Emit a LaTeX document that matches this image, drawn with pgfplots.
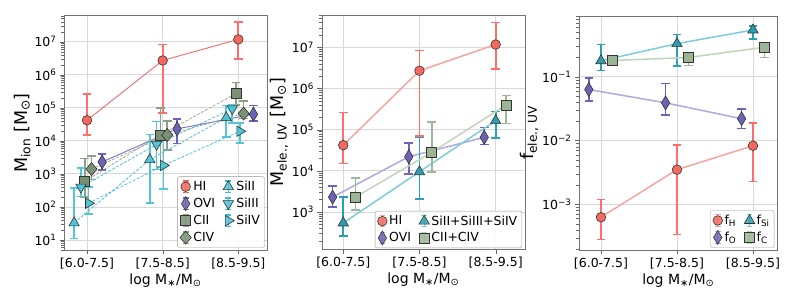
\documentclass[border=0pt]{standalone}
\usepackage{pgfplots}
\usepackage{pgfplotstable}
\pgfplotsset{compat=1.18}
\usepackage{fontspec}
\setmainfont{DejaVu Sans}
\definecolor{hiF}{HTML}{F4685F}
\definecolor{hiE}{HTML}{FF6E6A}
\definecolor{hiL}{HTML}{F06A6A}
\definecolor{hiL2}{HTML}{F7A3A0}
\definecolor{oF}{HTML}{6C63B5}
\definecolor{oE}{HTML}{7060C0}
\definecolor{oL}{HTML}{7B6FC4}
\definecolor{oL2}{HTML}{B0A8DA}
\definecolor{cF}{HTML}{7B9176}
\definecolor{cE}{HTML}{8CA087}
\definecolor{cL}{HTML}{8FA48A}
\definecolor{cF2}{HTML}{9BB595}
\definecolor{cE2}{HTML}{9DB897}
\definecolor{cL2}{HTML}{C0D4BC}
\definecolor{sF}{HTML}{4DC4D8}
\definecolor{sE}{HTML}{55C6D8}
\definecolor{sL}{HTML}{3DBCD6}
\definecolor{sF2}{HTML}{2C9EB0}
\definecolor{sE2}{HTML}{2AA0B4}
\definecolor{sL2}{HTML}{7DCCDA}
\definecolor{edge}{HTML}{333333}

\pgfplotstableread[row sep=\\]{x y lo hi\\ 0 4.2e4 1.5e4 2.6e5\\ 1 2.7e6 7.1e4 8.3e6\\ 2 1.17e7 3.0e6 4.0e7\\}\tHI
\pgfplotstableread[row sep=\\]{x y lo hi\\ 0.2 2.3e3 1.3e3 4.0e3\\ 1.19 2.3e4 8.3e3 4.5e4\\ 2.2 6.4e4 4.0e4 1.17e5\\}\tOVI
\pgfplotstableread[row sep=\\]{x y lo hi\\ -0.03 600 200 2.9e3\\ 0.97 1.5e4 1.6e3 1.0e5\\ 1.97 2.7e5 1.2e5 5.8e5\\}\tCII
\pgfplotstableread[row sep=\\]{x y lo hi\\ 0.06 1.4e3 680 3.5e3\\ 1.06 1.5e4 5.2e3 4.0e4\\ 2.07 6.7e4 4.7e4 1.6e5\\}\tCIV
\pgfplotstableread[row sep=\\]{x y lo hi\\ -0.17 33 11 380\\ 0.83 2.7e3 130 1.55e4\\ 1.84 5.0e4 1.3e4 1.17e5\\}\tSiII
\pgfplotstableread[row sep=\\]{x y lo hi\\ -0.08 400 210 1.5e3\\ 0.92 7.8e3 1.35e3 3.8e4\\ 1.92 9.3e4 3.5e4 1.26e5\\}\tSiIII
\pgfplotstableread[row sep=\\]{x y lo hi\\ 0.02 130 62 400\\ 1.01 1.8e3 350 1.4e4\\ 2.02 1.95e4 8.7e3 3.5e4\\}\tSiIV
\pgfplotstableread[row sep=\\]{x y lo hi\\ -0.14 2.3e3 1.3e3 4.3e3\\ 0.86 2.2e4 8.3e3 4.8e4\\ 1.85 6.5e4 4.4e4 1.12e5\\}\tOVIb
\pgfplotstableread[row sep=\\]{x y lo hi\\ 0 540 260 2.3e3\\ 1 9.5e3 2.1e3 6.5e4\\ 2 1.65e5 6.2e4 2.75e5\\}\tSib
\pgfplotstableread[row sep=\\]{x y lo hi\\ 0.16 2.3e3 1.1e3 6.6e3\\ 1.16 2.8e4 9.5e3 1.55e5\\ 2.14 4.0e5 1.4e5 6.8e5\\}\tCb
\pgfplotstableread[row sep=\\]{x y lo hi\\ 0 6.3e-4 2.8e-4 1.2e-3\\ 1 3.5e-3 3.4e-4 8.5e-3\\ 2 8.3e-3 2.3e-3 1.9e-2\\}\tfH
\pgfplotstableread[row sep=\\]{x y lo hi\\ -0.16 0.063 0.042 0.095\\ 0.85 0.039 0.025 0.078\\ 1.85 0.022 0.0155 0.031\\}\tfO
\pgfplotstableread[row sep=\\]{x y lo hi\\ 0 0.178 0.126 0.32\\ 1 0.33 0.148 0.46\\ 2 0.54 0.39 0.63\\}\tfSi
\pgfplotstableread[row sep=\\]{x y lo hi\\ 0.15 0.18 0.165 0.19\\ 1.15 0.2 0.15 0.24\\ 2.15 0.29 0.2 0.33\\}\tfC

\pgfkeys{/pgfplots/table/tb/.style={x=x, y=y, y error plus expr=\thisrow{hi}-\thisrow{y}, y error minus expr=\thisrow{y}-\thisrow{lo}}}
\pgfplotsset{
  every error bar/.append style={line width=1.7pt, solid},
  eb/.style={error bars/y dir=both, error bars/y explicit,
     error bars/error bar style={#1, line width=1.7pt, solid},
     error bars/error mark options={#1, line width=1.6pt, mark size=4.3pt, rotate=90, solid}},
  hiM/.style={mark=*, mark size=4.8pt, mark options={solid, fill=hiF, draw=edge, line width=0.6pt}},
  oM/.style={mark=diamond*, mark size=7pt, mark options={solid, xscale=0.8, fill=oF, draw=edge, line width=0.6pt}},
  cM/.style={mark=square*, mark size=5pt, mark options={solid, fill=#1, draw=edge, line width=0.6pt}},
  dM/.style={mark=diamond*, mark size=6.5pt, mark options={solid, xscale=1.15, fill=#1, draw=edge, line width=0.6pt}},
  sM/.style 2 args={mark=triangle*, mark size=6pt, mark options={solid, rotate=#2, fill=#1, draw=edge, line width=0.6pt}},
}
\pgfplotsset{
  every axis/.append style={
    scale only axis, 
    xtick={0,1,2}, xticklabels={{[6.0-7.5]},{[7.5-8.5]},{[8.5-9.5]}},
    grid=major, major grid style={black!15, line width=0.9pt},
    tick align=outside, tick pos=left,
    axis line style={black!55},
    major tick style={black!60},
    minor tick style={black!60},
    ticklabel style={font=\fontsize{12.5}{14}\selectfont},
    xlabel={log M\textsubscript{∗}/M\textsubscript{⊙}},
    xlabel style={font=\fontsize{14}{16}\selectfont, yshift=2pt},
    ylabel style={font=\fontsize{17.5}{19}\selectfont, yshift=-3pt},
    legend cell align=left,
    legend style={font=\fontsize{12.5}{14}\selectfont, rounded corners=2pt, draw=black!40,
      fill=white, fill opacity=0.85, text opacity=1, inner sep=2.5pt, row sep=2pt,
      /tikz/every even column/.append style={column sep=6pt}},
  },
}

\begin{document}
\begin{tikzpicture}
\useasboundingbox (0,0) rectangle (793pt,305pt);
% ---------------- panel 1
\begin{axis}[ymode=log, log basis y=10,
  log number format basis/.code 2 args={#1\textsuperscript{\pgfmathparse{int(round(#2))}\ifnum\pgfmathresult<0 −\pgfmathparse{int(round(-(#2)))}\fi\pgfmathresult}},
  at={(64.3pt,55pt)}, anchor=south west, width=202.4pt, height=234.3pt,
  xmin=-0.3, xmax=2.375, ymin=5, ymax=6.1e7,
  ylabel={M\textsubscript{ion} [M\textsubscript{⊙}]},
  legend image code/.code={\draw[#1, solid, line width=1.3pt] (0.25cm,-0.2cm) -- (0.25cm,0.2cm) (0.15cm,-0.2cm) -- (0.35cm,-0.2cm) (0.15cm,0.2cm) -- (0.35cm,0.2cm); \draw[#1] plot coordinates {(0.25cm,0cm)};},
  transpose legend, legend columns=4,
  legend style={at={(0.99,0.01)}, anchor=south east}]
\addplot[hiL, line width=0.9pt, hiM, eb=hiE] table[tb] {\tHI};
\addlegendentry{HI}
\addplot[oL, line width=0.9pt, oM, eb=oE] table[tb] {\tOVI};
\addlegendentry{OVI}
\addplot[cL, line width=0.7pt, dash pattern=on 3pt off 1.5pt, cM=cF, eb=cE] table[tb] {\tCII};
\addlegendentry{CII}
\addplot[cL, line width=0.7pt, dash pattern=on 3pt off 1.5pt, dM=cF, eb=cE] table[tb] {\tCIV};
\addlegendentry{CIV}
\addplot[sL, line width=0.7pt, dash pattern=on 3pt off 1.5pt, sM={sF}{0}, eb=sE] table[tb] {\tSiII};
\addlegendentry{SiII}
\addplot[sL, line width=0.7pt, dash pattern=on 3pt off 1.5pt, sM={sF}{180}, eb=sE] table[tb] {\tSiIII};
\addlegendentry{SiIII}
\addplot[sL, line width=0.7pt, dash pattern=on 3pt off 1.5pt, sM={sF}{-90}, eb=sE] table[tb] {\tSiIV};
\addlegendentry{SiIV}
\end{axis}
% ---------------- panel 2
\begin{axis}[ymode=log, log basis y=10,
  log number format basis/.code 2 args={#1\textsuperscript{\pgfmathparse{int(round(#2))}\ifnum\pgfmathresult<0 −\pgfmathparse{int(round(-(#2)))}\fi\pgfmathresult}},
  at={(321.7pt,55.7pt)}, anchor=south west, width=203.3pt, height=234.3pt,
  xmin=-0.283, xmax=2.385, ymin=124, ymax=6.1e7,
  ylabel={M\textsubscript{ele., UV} [M\textsubscript{⊙}]},
  legend image code/.code={\draw[#1, solid, line width=1.3pt] (0.25cm,-0.2cm) -- (0.25cm,0.2cm) (0.15cm,-0.2cm) -- (0.35cm,-0.2cm) (0.15cm,0.2cm) -- (0.35cm,0.2cm); \draw[#1] plot coordinates {(0.25cm,0cm)};},
  transpose legend, legend columns=2,
  legend style={at={(0.985,0.005)}, anchor=south east}]
\addplot[hiL2, line width=1.5pt, hiM, eb=hiE] table[tb] {\tHI};
\addlegendentry{HI}
\addplot[oL2, line width=1.5pt, oM, eb=oE] table[tb] {\tOVIb};
\addlegendentry{OVI}
\addplot[sL2, line width=1.5pt, sM={sF2}{0}, eb=sE2] table[tb] {\tSib};
\addlegendentry{SiII+SiIII+SiIV}
\addplot[cL2, line width=1.5pt, cM=cF2, eb=cE2] table[tb] {\tCb};
\addlegendentry{CII+CIV}
\end{axis}
% ---------------- panel 3
\begin{axis}[ymode=log, log basis y=10,
  log number format basis/.code 2 args={#1\textsuperscript{\pgfmathparse{int(round(#2))}\ifnum\pgfmathresult<0 −\pgfmathparse{int(round(-(#2)))}\fi\pgfmathresult}},
  at={(579.3pt,55pt)}, anchor=south west, width=198pt, height=234.3pt,
  xmin=-0.285, xmax=2.32, ymin=1.93e-4, ymax=0.904,
  ylabel={f\textsubscript{ele., UV}},
  legend image code/.code={\draw[#1, solid, line width=1.3pt] (0.25cm,-0.2cm) -- (0.25cm,0.2cm) (0.15cm,-0.2cm) -- (0.35cm,-0.2cm) (0.15cm,0.2cm) -- (0.35cm,0.2cm); \draw[#1] plot coordinates {(0.25cm,0cm)};},
  transpose legend, legend columns=2,
  legend style={at={(0.985,0.01)}, anchor=south east}]
\addplot[hiL2, line width=1.5pt, hiM, eb=hiE] table[tb] {\tfH};
\addlegendentry{f\textsubscript{H}}
\addplot[oL2, line width=1.5pt, oM, eb=oE] table[tb] {\tfO};
\addlegendentry{f\textsubscript{O}}
\addplot[sL2, line width=1.5pt, sM={sF2}{0}, eb=sE2] table[tb] {\tfSi};
\addlegendentry{f\textsubscript{Si}}
\addplot[cL2, line width=1.5pt, cM=cF2, eb=cE2] table[tb] {\tfC};
\addlegendentry{f\textsubscript{C}}
\end{axis}
\end{tikzpicture}
\end{document}
